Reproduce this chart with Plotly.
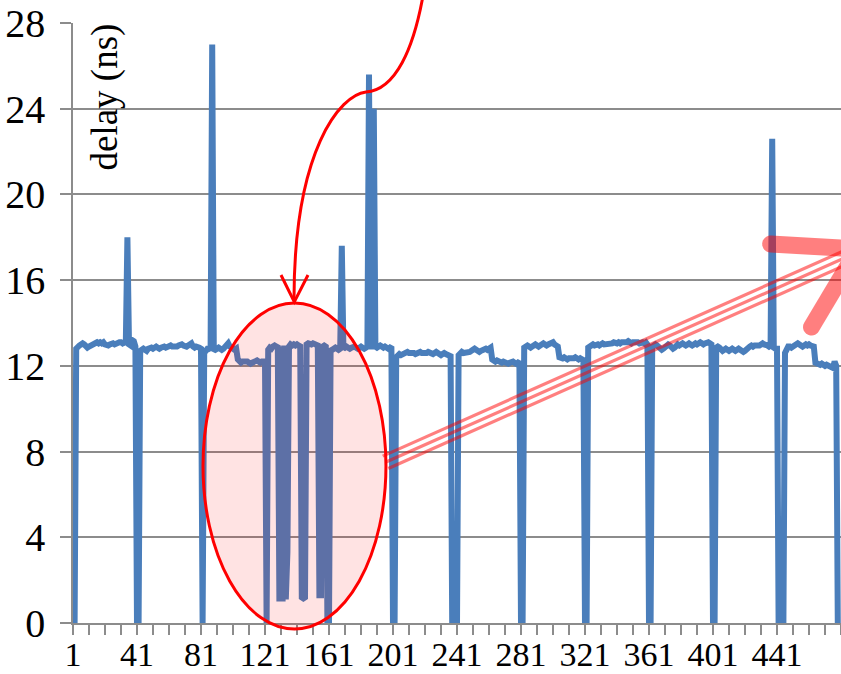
import math
import plotly.graph_objects as go

# ---- data -------------------------------------------------------------
sample = list(range(1, 481))

delay_ns = [
    0, 0, 12.8, 12.95, 12.95, 13.0, 13.05, 13.0, 12.9, 12.85, 12.9, 12.95, 13.0, 13.0, 13.05, 13.1, 13.05, 13.1, 13.05, 13.1,
    13.0, 12.95, 12.95, 13.0, 13.05, 13.05, 13.0, 13.05, 13.05, 13.1, 13.1, 13.05, 13.1, 13.0, 18.0, 13.0, 12.95, 13.2, 13.15, 12.9,
    0, 0, 12.7, 12.75, 12.8, 12.75, 12.7, 12.8, 12.85, 12.85, 12.8, 12.85, 12.9, 12.85, 12.8, 12.85, 12.9, 12.9, 12.85, 12.9,
    12.9, 12.95, 12.9, 12.9, 12.85, 12.9, 12.95, 13.0, 13.0, 12.95, 12.9, 12.9, 12.95, 13.05, 13.05, 12.9, 12.85, 12.9, 12.9, 12.85,
    12.8, 0, 12.6, 12.75, 12.8, 12.8, 12.75, 27.0, 12.7, 12.75, 12.8, 12.85, 12.8, 12.75, 12.8, 12.9, 13.0, 13.05, 12.9, 12.8,
    12.8, 12.75, 12.8, 12.3, 12.2, 12.15, 12.2, 12.2, 12.25, 12.2, 12.15, 12.1, 12.15, 12.2, 12.2, 12.25, 12.2, 12.15, 12.2, 12.2,
    12.2, 0, 12.75, 12.85, 12.8, 12.9, 12.95, 12.9, 12.95, 1.0, 12.9, 1.0, 12.95, 1.1, 3.3, 12.9, 13.0, 12.95, 13.0, 12.95,
    13.0, 12.95, 13.0, 1.2, 1.15, 1.2, 13.0, 13.05, 13.0, 13.0, 13.05, 13.0, 13.0, 12.95, 1.3, 1.3, 12.9, 12.95, 12.9, 0,
    0, 12.8, 12.75, 12.8, 12.85, 12.8, 12.75, 12.8, 17.6, 12.8, 12.85, 12.9, 12.85, 12.8, 12.85, 12.9, 12.9, 12.85, 12.8, 12.85,
    12.9, 12.85, 12.8, 12.85, 12.9, 25.6, 12.9, 12.9, 24.0, 12.9, 12.85, 12.9, 12.95, 12.9, 12.85, 12.9, 12.85, 12.8, 12.85, 12.9,
    0, 0, 12.4, 12.5, 12.55, 12.5, 12.55, 12.6, 12.6, 12.65, 12.6, 12.6, 12.65, 12.6, 12.55, 12.6, 12.65, 12.65, 12.6, 12.6,
    12.55, 12.6, 12.65, 12.6, 12.6, 12.55, 12.6, 12.65, 12.6, 12.55, 12.5, 12.55, 12.6, 12.55, 12.5, 12.5, 12.45, 0, 0, 0,
    0, 12.5, 12.6, 12.65, 12.6, 12.6, 12.65, 12.6, 12.65, 12.7, 12.75, 12.8, 12.75, 12.7, 12.65, 12.7, 12.75, 12.75, 12.8, 12.75,
    12.8, 12.85, 12.3, 12.2, 12.2, 12.25, 12.2, 12.2, 12.15, 12.2, 12.15, 12.1, 12.1, 12.15, 12.2, 12.2, 12.15, 12.1, 12.15, 12.2,
    0, 0, 12.85, 12.9, 12.95, 12.9, 12.85, 12.9, 12.95, 13.0, 12.95, 12.9, 12.95, 13.0, 13.05, 13.0, 12.95, 13.0, 13.05, 13.1,
    13.1, 13.0, 12.95, 12.9, 12.4, 12.35, 12.35, 12.4, 12.35, 12.3, 12.35, 12.35, 12.3, 12.35, 12.4, 12.35, 12.3, 12.35, 12.3, 12.35,
    0, 0, 12.85, 12.9, 12.95, 13.0, 12.95, 13.0, 13.0, 12.95, 13.0, 13.05, 13.0, 13.0, 13.05, 13.05, 13.0, 13.05, 13.1, 13.05,
    13.05, 13.1, 13.05, 13.1, 13.1, 13.05, 13.1, 13.15, 13.1, 13.05, 13.1, 13.1, 13.15, 13.1, 13.05, 13.1, 13.1, 13.05, 13.1, 13.0,
    0, 0, 12.9, 12.95, 13.0, 12.95, 12.9, 12.8, 12.75, 12.8, 12.9, 12.95, 13.0, 12.95, 12.9, 12.8, 12.85, 12.95, 13.0, 12.95,
    13.0, 13.05, 13.0, 12.95, 13.0, 13.05, 13.0, 12.95, 13.0, 13.05, 13.0, 13.05, 13.1, 13.05, 13.0, 13.05, 13.1, 13.1, 13.05, 13.0,
    0, 0, 12.85, 12.9, 12.85, 12.75, 12.7, 12.75, 12.8, 12.75, 12.7, 12.75, 12.8, 12.75, 12.7, 12.75, 12.8, 12.75, 12.7, 12.65,
    12.7, 12.8, 12.85, 12.9, 12.95, 12.9, 12.95, 12.95, 12.9, 12.95, 13.0, 13.05, 13.0, 13.0, 12.95, 12.9, 12.95, 22.6, 12.85, 12.8,
    12.8, 0, 0, 0, 0, 12.6, 12.85, 12.9, 12.9, 12.85, 12.9, 12.95, 13.0, 13.05, 13.0, 12.95, 12.9, 12.95, 13.0, 12.95,
    13.0, 12.95, 12.95, 12.9, 12.15, 12.1, 12.1, 12.05, 12.1, 12.05, 12.0, 12.05, 12.0, 11.95, 11.95, 11.9, 12.2, 12.0, 0, 0,
]

y_tick_vals = [0, 4, 8, 12, 16, 20, 24, 28]
x_tick_vals = list(range(1, 482, 10))          # a tick mark every 10 samples
x_label_vals = [1, 41, 81, 121, 161, 201, 241, 281, 321, 361, 401, 441]
x_tick_text = [str(v) if v in x_label_vals else "" for v in x_tick_vals]

# highlighted region (sample range, delay range)
region_x = [82.25, 196.6]
region_y = [-0.28, 14.93]

# ---- layout geometry ---------------------------------------------------
W, H = 841, 674
M = dict(l=73, r=0, t=23, b=51)
X_RANGE = [1, 481]
Y_RANGE = [0, 28]
PW = W - M["l"] - M["r"]
PH = H - M["t"] - M["b"]

FONT = "Liberation Serif"
BLUE = "#4a7ebb"
GRID = "#8c8c8c"
RED = "#ff0000"
RED_T = "rgba(255,0,0,0.5)"


def px2paper(px, py):
    return (px - M["l"]) / PW, (H - M["b"] - py) / PH


def data2paper(xv, yv):
    return ((xv - X_RANGE[0]) / (X_RANGE[1] - X_RANGE[0]),
            (yv - Y_RANGE[0]) / (Y_RANGE[1] - Y_RANGE[0]))


def fmt(pt):
    return f"{pt[0]:.5f},{pt[1]:.5f}"


def stadium(p, q, w, n_arc=16):
    """Outline of a thick stroke from p to q with a round cap at p (pixel space)."""
    dx, dy = q[0] - p[0], q[1] - p[1]
    L = math.hypot(dx, dy)
    ux, uy = dx / L, dy / L
    vx, vy = -uy, ux
    pts = []
    for i in range(n_arc + 1):
        a = math.pi / 2 + math.pi * i / n_arc
        pts.append((p[0] + w * (math.cos(a) * ux + math.sin(a) * vx),
                    p[1] + w * (math.cos(a) * uy + math.sin(a) * vy)))
    pts.append((q[0] - w * vx, q[1] - w * vy))
    pts.append((q[0] + w * vx, q[1] + w * vy))
    return pts


def path_from_px(points, close=True):
    pp = [px2paper(*p) for p in points]
    s = "M " + fmt(pp[0]) + "".join(" L " + fmt(p) for p in pp[1:])
    return s + (" Z" if close else "")


fig = go.Figure()
fig.add_trace(go.Scatter(
    x=sample, y=delay_ns, mode="lines",
    line=dict(color=BLUE, width=6),
    hoverinfo="skip", showlegend=False,
))

shapes = []

# highlighted ellipse
ex0, ey0 = data2paper(region_x[0], region_y[0])
ex1, ey1 = data2paper(region_x[1], region_y[1])
shapes.append(dict(type="circle", xref="paper", yref="paper",
                   x0=ex0, x1=ex1, y0=ey0, y1=ey1,
                   fillcolor="rgba(255,0,0,0.11)", line=dict(color=RED, width=3)))

# curved pointer coming from above
c = [px2paper(*p) for p in [(424, -10), (414, 50), (395, 90), (366, 92),
                             (340, 95), (294, 150), (294, 300)]]
curve = (f"M {fmt(c[0])} C {fmt(c[1])} {fmt(c[2])} {fmt(c[3])} "
         f"C {fmt(c[4])} {fmt(c[5])} {fmt(c[6])}")
shapes.append(dict(type="path", xref="paper", yref="paper", path=curve,
                   line=dict(color=RED, width=3), fillcolor="rgba(0,0,0,0)"))
shapes.append(dict(type="path", xref="paper", yref="paper",
                   path=path_from_px([(281, 275), (294.3, 302), (308, 275)], close=False),
                   line=dict(color=RED, width=3), fillcolor="rgba(0,0,0,0)"))

# triple-striped shaft towards the right
tail = (385.5, 462.3)
tip = (858.0, 252.0)
dx, dy = tip[0] - tail[0], tip[1] - tail[1]
L = math.hypot(dx, dy)
nx, ny = -dy / L, dx / L
for k in (-1, 0, 1):
    off = 6.8 * k
    a = px2paper(tail[0] + off * nx, tail[1] + off * ny)
    b = px2paper(tip[0] + off * nx, tip[1] + off * ny)
    shapes.append(dict(type="line", xref="paper", yref="paper",
                       x0=a[0], y0=a[1], x1=b[0], y1=b[1],
                       line=dict(color=RED_T, width=3.2)))

# thick arrowhead arms
for start in [(770.7, 244.0), (811.5, 327.0)]:
    shapes.append(dict(type="path", xref="paper", yref="paper",
                       path=path_from_px(stadium(start, (858.0, 249.0), 8.5)),
                       fillcolor=RED_T, line=dict(width=0)))

fig.update_layout(
    width=W, height=H,
    margin=dict(l=M["l"], r=M["r"], t=M["t"], b=M["b"], pad=0),
    paper_bgcolor="white", plot_bgcolor="white",
    font=dict(family=FONT, color="black"),
    shapes=shapes,
    annotations=[dict(
        text="delay (ns)", xref="paper", yref="paper",
        x=px2paper(105, 0)[0], y=px2paper(0, 97.5)[1],
        xanchor="center", yanchor="middle", textangle=-90,
        showarrow=False, font=dict(family=FONT, size=37, color="black"),
    )],
)

fig.update_xaxes(
    range=X_RANGE, tickmode="array", tickvals=x_tick_vals, ticktext=x_tick_text,
    showgrid=False, zeroline=False, automargin=False,
    showline=True, linecolor=GRID, linewidth=1.5,
    ticks="outside", ticklen=10, tickwidth=1.5, tickcolor=GRID,
    ticklabelstandoff=-10,
    tickfont=dict(family=FONT, size=34, color="black"),
)
fig.update_yaxes(
    range=Y_RANGE, tickmode="array", tickvals=y_tick_vals,
    showgrid=True, gridcolor=GRID, gridwidth=1.5, zeroline=False, automargin=False,
    showline=True, linecolor=GRID, linewidth=1.5,
    ticks="outside", ticklen=11, tickwidth=1.5, tickcolor=GRID,
    ticklabelstandoff=7,
    tickfont=dict(family=FONT, size=40, color="black"),
)

fig.write_html("out.html")
